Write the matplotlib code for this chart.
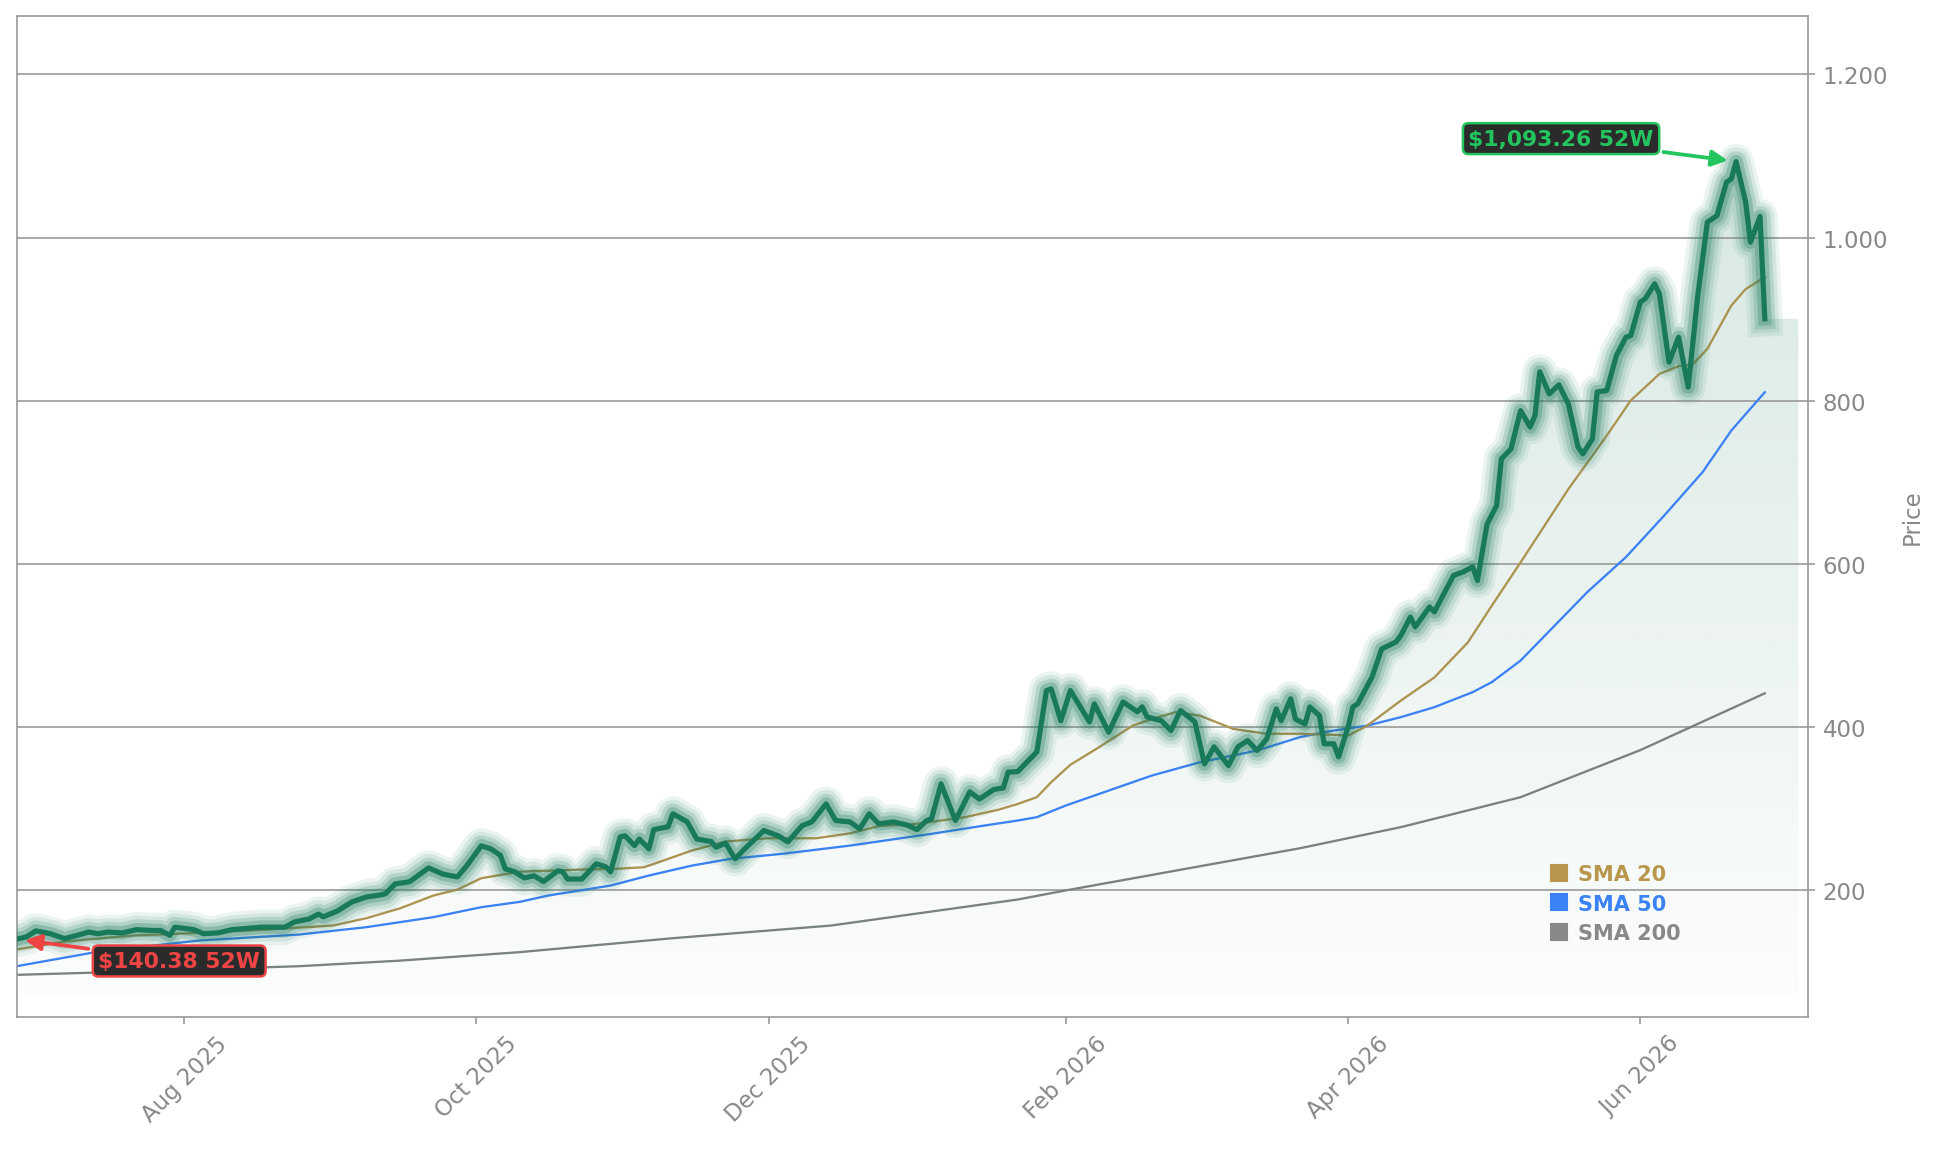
import numpy as np
import pandas as pd
import matplotlib
matplotlib.use("Agg")
import matplotlib.pyplot as plt
import matplotlib.dates as mdates
from matplotlib.lines import Line2D
from matplotlib.patches import Polygon
from matplotlib.ticker import MultipleLocator, FuncFormatter
from matplotlib.colors import to_rgb

# closing prices
price_dates = [
    "2025-06-27", "2025-06-29", "2025-07-01", "2025-07-04", "2025-07-07", "2025-07-10",
    "2025-07-12", "2025-07-14", "2025-07-16", "2025-07-19", "2025-07-22", "2025-07-25",
    "2025-07-27", "2025-07-29", "2025-07-30", "2025-08-03", "2025-08-05", "2025-08-08",
    "2025-08-11", "2025-08-14", "2025-08-17", "2025-08-19", "2025-08-22", "2025-08-24",
    "2025-08-27", "2025-08-29", "2025-08-30", "2025-09-02", "2025-09-05", "2025-09-08",
    "2025-09-11", "2025-09-12", "2025-09-14", "2025-09-17", "2025-09-21", "2025-09-24",
    "2025-09-27", "2025-09-29", "2025-10-02", "2025-10-04", "2025-10-06", "2025-10-07",
    "2025-10-09", "2025-10-11", "2025-10-13", "2025-10-15", "2025-10-18", "2025-10-19",
    "2025-10-20", "2025-10-23", "2025-10-26", "2025-10-28", "2025-10-29", "2025-10-31",
    "2025-11-01", "2025-11-03", "2025-11-04", "2025-11-06", "2025-11-07", "2025-11-10",
    "2025-11-11", "2025-11-14", "2025-11-16", "2025-11-19", "2025-11-20", "2025-11-22",
    "2025-11-24", "2025-11-26", "2025-11-30", "2025-12-03", "2025-12-05", "2025-12-08",
    "2025-12-10", "2025-12-13", "2025-12-15", "2025-12-18", "2025-12-20", "2025-12-22",
    "2025-12-24", "2025-12-27", "2025-12-30", "2026-01-01", "2026-01-03", "2026-01-04",
    "2026-01-06", "2026-01-09", "2026-01-12", "2026-01-14", "2026-01-17", "2026-01-19",
    "2026-01-20", "2026-01-22", "2026-01-26", "2026-01-28", "2026-01-29", "2026-01-31",
    "2026-02-02", "2026-02-06", "2026-02-07", "2026-02-10", "2026-02-13", "2026-02-16",
    "2026-02-17", "2026-02-18", "2026-02-21", "2026-02-23", "2026-02-25", "2026-02-28",
    "2026-03-02", "2026-03-04", "2026-03-07", "2026-03-09", "2026-03-11", "2026-03-13",
    "2026-03-15", "2026-03-17", "2026-03-18", "2026-03-20", "2026-03-21", "2026-03-23",
    "2026-03-24", "2026-03-26", "2026-03-27", "2026-03-29", "2026-03-30", "2026-04-01",
    "2026-04-02", "2026-04-03", "2026-04-06", "2026-04-08", "2026-04-11", "2026-04-12",
    "2026-04-14", "2026-04-15", "2026-04-18", "2026-04-19", "2026-04-23", "2026-04-25",
    "2026-04-27", "2026-04-28", "2026-04-30", "2026-05-02", "2026-05-03", "2026-05-05",
    "2026-05-07", "2026-05-09", "2026-05-10", "2026-05-11", "2026-05-13", "2026-05-15",
    "2026-05-17", "2026-05-19", "2026-05-20", "2026-05-22", "2026-05-23", "2026-05-25",
    "2026-05-27", "2026-05-29", "2026-05-30", "2026-06-01", "2026-06-02", "2026-06-04",
    "2026-06-05", "2026-06-07", "2026-06-09", "2026-06-11", "2026-06-13", "2026-06-15",
    "2026-06-17", "2026-06-19", "2026-06-20", "2026-06-21", "2026-06-23", "2026-06-24",
    "2026-06-26", "2026-06-27",
]
price_values = [
    140.38, 143, 150.5, 147, 141, 145.6,
    149, 147, 149, 148, 152, 151,
    151, 145, 155, 152, 147, 148,
    152, 153.5, 155, 155, 155, 161.5,
    165, 171, 167.7, 175, 186, 192,
    194.6, 196, 208, 210.6, 227.6, 220,
    216.6, 230.5, 254.7, 251, 243, 226.5,
    222.8, 215.4, 218, 211, 224, 223,
    214, 214, 232.6, 229, 222.8, 265.7,
    267, 255, 263, 251, 274.6, 278,
    294, 284, 263, 260, 253, 258,
    238.7, 251, 273.4, 267, 259.5, 279.5,
    284, 306, 285.7, 284, 275.5, 294,
    281.6, 284, 280, 274.6, 285.7, 287.7,
    330.6, 285.7, 320.8, 312, 323.7, 325.7,
    345, 345.7, 369.8, 445, 447, 408,
    445, 406.6, 428.7, 394, 431, 419,
    425, 412.7, 408, 396, 420.5, 406.6,
    355, 376, 353, 376, 383.7, 371.5,
    385.8, 422.5, 408, 434.8, 410, 404,
    425, 414.3, 379.7, 379.7, 363.7, 400.5,
    425, 428.7, 461.8, 496, 504.6, 512.4,
    535, 523, 547.5, 541.4, 586, 590.4,
    596.6, 579.8, 649, 671.7, 729, 741,
    788, 768, 782, 835.5, 808.6, 819.6,
    796, 743.6, 735, 753.4, 811, 812.6,
    855.5, 878, 880, 921, 925, 943.4,
    931, 847.4, 878, 816.8, 929, 1019,
    1027, 1068, 1072, 1093.26, 1043.5, 994.5,
    1026, 900.5,
]

sma20_dates = [
    "2025-06-27", "2025-07-07", "2025-07-21", "2025-08-04", "2025-08-18", "2025-09-01",
    "2025-09-08", "2025-09-15", "2025-09-22", "2025-09-27", "2025-10-02", "2025-10-10",
    "2025-10-23", "2025-10-30", "2025-11-05", "2025-11-10", "2025-11-15", "2025-11-22",
    "2025-12-01", "2025-12-11", "2025-12-18", "2025-12-24", "2026-01-01", "2026-01-11",
    "2026-01-18", "2026-01-22", "2026-01-26", "2026-01-29", "2026-02-02", "2026-02-08",
    "2026-02-15", "2026-02-19", "2026-02-24", "2026-03-01", "2026-03-08", "2026-03-15",
    "2026-03-22", "2026-03-29", "2026-04-01", "2026-04-05", "2026-04-12", "2026-04-19",
    "2026-04-26", "2026-05-01", "2026-05-07", "2026-05-17", "2026-05-25", "2026-05-30",
    "2026-06-05", "2026-06-09", "2026-06-12", "2026-06-15", "2026-06-20", "2026-06-23",
    "2026-06-27",
]
sma20_values = [
    127.6, 137.4, 144.7, 148, 152, 157,
    166, 178, 193.8, 201, 215, 223,
    225.6, 226.5, 228.5, 238.7, 249, 260,
    264, 264, 270, 278.8, 281.6, 289.8,
    299, 306, 314.3, 332.7, 354, 375.6,
    402, 410, 418.5, 414.3, 398, 392,
    392, 390.7, 389.8, 402, 432.7, 461,
    504, 549, 602, 692, 757.5, 800.4,
    833, 842.5, 845, 863.7, 916.8, 937,
    951.6,
]

sma50_dates = [
    "2025-06-27", "2025-07-14", "2025-08-04", "2025-08-25", "2025-09-08", "2025-09-22",
    "2025-10-02", "2025-10-10", "2025-10-16", "2025-10-29", "2025-11-06", "2025-11-15",
    "2025-11-23", "2025-12-04", "2025-12-18", "2026-01-04", "2026-01-15", "2026-01-22",
    "2026-01-26", "2026-02-01", "2026-02-10", "2026-02-19", "2026-03-01", "2026-03-13",
    "2026-03-22", "2026-03-29", "2026-04-05", "2026-04-12", "2026-04-19", "2026-04-27",
    "2026-05-01", "2026-05-07", "2026-05-21", "2026-05-29", "2026-06-06", "2026-06-14",
    "2026-06-20", "2026-06-27",
]
sma50_values = [
    107.2, 125, 138.6, 146, 155, 167.3,
    179.5, 186, 193.8, 206, 218.3, 230.5,
    238.7, 245, 255, 269.4, 279.5, 285.7,
    289.8, 304, 322.4, 340.8, 357, 371.5,
    388, 396, 402, 412.4, 424.6, 443,
    455.3, 481.7, 566, 608.5, 659.5, 712.6,
    763.6, 810.6,
]

sma200_dates = [
    "2025-06-27", "2025-07-28", "2025-08-25", "2025-09-15", "2025-10-10", "2025-11-11",
    "2025-12-14", "2026-01-22", "2026-02-01", "2026-03-22", "2026-04-12", "2026-05-07",
    "2026-06-01", "2026-06-27",
]
sma200_values = [
    96.6, 101.8, 107.2, 114, 124.4, 141.5,
    157, 188.9, 200, 251.8, 277.6, 314.3,
    372, 441.6,
]

PRICE_COLOR = "#19795b"
SMA20_COLOR = "#b8964c"
SMA50_COLOR = "#3b82f6"
SMA200_COLOR = "#888888"
GRAY = "#999999"

dates = pd.to_datetime(price_dates)
price = np.array(price_values)

fig = plt.figure(figsize=(12.96, 7.6733), dpi=150)
ax = fig.add_axes([0.0086, 0.1156, 0.9214, 0.8699])

# gradient fill under the price line
x0 = mdates.date2num(dates[0])
x_fill_end = mdates.date2num(dates[-1] + pd.Timedelta(days=7))
grad_bottom = price.min() * 0.5
grad_top = price.max()
img = np.zeros((256, 1, 4))
img[:, :, :3] = to_rgb(PRICE_COLOR)
img[:, 0, 3] = np.linspace(0.015, 0.175, 256)
im = ax.imshow(img, extent=[x0, x_fill_end, grad_bottom, grad_top], origin="lower",
               aspect="auto", interpolation="bilinear", zorder=1)
verts = [(x0, grad_bottom)] + list(zip(mdates.date2num(dates), price)) + \
        [(x_fill_end, price[-1]), (x_fill_end, grad_bottom)]
clip = Polygon(verts, closed=True, facecolor="none", edgecolor="none", transform=ax.transData)
ax.add_patch(clip)
im.set_clip_path(clip)

# moving averages
ax.plot(pd.to_datetime(sma200_dates), sma200_values, color="#7a827e", lw=1.1, zorder=2.5)
ax.plot(pd.to_datetime(sma50_dates), sma50_values, color=SMA50_COLOR, lw=1.1, zorder=2.5)
ax.plot(pd.to_datetime(sma20_dates), sma20_values, color="#ad9350", lw=1.1, zorder=2.5)

# glowing price line
for lw, a in [(17, 0.08), (13.5, 0.11), (10, 0.17), (6.5, 0.26)]:
    ax.plot(dates, price, color=PRICE_COLOR, lw=lw, alpha=a, zorder=3)
ax.plot(dates, price, color=PRICE_COLOR, lw=2.5, zorder=4)

# 52 week high / low
i_max = int(np.argmax(price))
i_min = int(np.argmin(price))
ax.annotate(f"${price[i_max]:,.2f} 52W", xy=(dates[i_max], price[i_max]),
            xytext=(-84, 11), textcoords="offset points", ha="center", va="center",
            color="#22c55e", fontsize=10.5, fontweight="bold", zorder=6,
            bbox=dict(boxstyle="round,pad=0.25", fc="#2b2b2b", ec="#22c55e", lw=1.2),
            arrowprops=dict(arrowstyle="-|>", color="#22c55e", lw=1.8, shrinkB=4,
                            mutation_scale=16))
ax.annotate(f"${price[i_min]:,.2f} 52W", xy=(dates[i_min], price[i_min]),
            xytext=(78, -10.5), textcoords="offset points", ha="center", va="center",
            color="#ef4444", fontsize=10.5, fontweight="bold", zorder=6,
            bbox=dict(boxstyle="round,pad=0.25", fc="#2b2b2b", ec="#ef4444", lw=1.2),
            arrowprops=dict(arrowstyle="-|>", color="#ef4444", lw=1.8, shrinkB=4,
                            mutation_scale=16))

# legend
handles = [Line2D([], [], ls="", marker="s", ms=8, color=c)
           for c in (SMA20_COLOR, SMA50_COLOR, SMA200_COLOR)]
ax.legend(handles, ["SMA 20", "SMA 50", "SMA 200"], loc="upper left",
          bbox_to_anchor=(0.845, 0.171), frameon=False, handlelength=1,
          handletextpad=0.4, labelspacing=0.44,
          labelcolor=[SMA20_COLOR, SMA50_COLOR, SMA200_COLOR],
          prop={"weight": "bold", "size": 10})

# axes styling
ax.set_xlim(x0, mdates.date2num(dates[-1] + pd.Timedelta(days=9)))
ax.set_ylim(45, 1272)
ax.yaxis.tick_right()
ax.yaxis.set_label_position("right")
ax.set_ylabel("Price", color="#888888", fontsize=11, labelpad=6)
ax.yaxis.set_major_locator(MultipleLocator(200))
ax.yaxis.set_major_formatter(FuncFormatter(lambda v, p: f"{v:,.0f}".replace(",", ".")))
ax.xaxis.set_major_locator(mdates.MonthLocator(bymonth=[2, 4, 6, 8, 10, 12]))
ax.xaxis.set_major_formatter(mdates.DateFormatter("%b %Y"))
ax.tick_params(colors=GRAY, labelcolor="#888888", labelsize=11, width=0.8)
ax.tick_params(axis="x", rotation=45)
ax.grid(axis="y", color=GRAY, lw=0.8)
for s in ax.spines.values():
    s.set_color(GRAY)
    s.set_linewidth(0.8)

fig.savefig("out.png", dpi=150)
